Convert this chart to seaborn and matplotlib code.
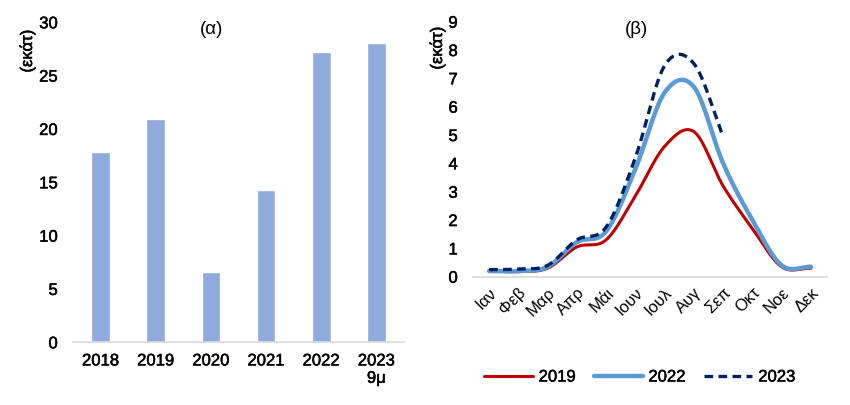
import numpy as np
import pandas as pd
import matplotlib
matplotlib.use("Agg")
import matplotlib.pyplot as plt
import matplotlib.patheffects as pe
import seaborn as sns

# ---------------- data ----------------
years = ["2018", "2019", "2020", "2021", "2022", "2023\n9μ"]
arrivals = [17.8, 20.9, 6.6, 14.3, 27.2, 28.1]

months = ["Ιαν", "Φεβ", "Μαρ", "Απρ", "Μάι", "Ιουν", "Ιουλ", "Αυγ", "Σεπ", "Οκτ", "Νοε", "Δεκ"]
v2019 = [0.20, 0.18, 0.30, 1.05, 1.30, 2.85, 4.60, 5.12, 3.20, 1.70, 0.35, 0.30]
v2022 = [0.20, 0.20, 0.35, 1.22, 1.60, 3.80, 6.50, 6.70, 4.00, 2.00, 0.40, 0.35]
v2023 = [0.25, 0.27, 0.40, 1.30, 1.75, 4.20, 7.45, 7.52, 4.95]

series_names = ["2019", "2022", "2023"]
series_vals = [v2019, v2022, v2023]
series_colors = ["#C00000", "#5B9BD5", "#002060"]
series_widths = [2.2, 3.2, 2.4]
series_dash = ["-", "-", (0, (2.6, 1.6))]

FONT = ["Liberation Sans", "DejaVu Sans"]
sns.set_theme(style="white")
plt.rcParams["font.family"] = FONT
plt.rcParams["text.color"] = "black"
plt.rcParams["xtick.color"] = "black"
plt.rcParams["ytick.color"] = "black"

THICK = [pe.withStroke(linewidth=0.35, foreground="black")]


def smooth(y, n=30):
    """Catmull-Rom rendering of a line (Excel 'smoothed line' style)."""
    y = np.asarray(y, float)
    x = np.arange(len(y), dtype=float)
    xs, ys = [], []
    for i in range(len(y) - 1):
        p0 = y[i - 1] if i > 0 else y[i]
        p3 = y[i + 2] if i + 2 < len(y) else y[i + 1]
        p1, p2 = y[i], y[i + 1]
        m1 = (p2 - p0) / 2 if i > 0 else (p2 - p1)
        m2 = (p3 - p1) / 2 if i + 2 < len(y) else (p2 - p1)
        t = np.linspace(0, 1, n, endpoint=(i == len(y) - 2))
        h00 = 2 * t**3 - 3 * t**2 + 1
        h10 = t**3 - 2 * t**2 + t
        h01 = -2 * t**3 + 3 * t**2
        h11 = t**3 - t**2
        xs.append(x[i] + t)
        ys.append(h00 * p1 + h10 * m1 + h01 * p2 + h11 * m2)
    return np.concatenate(xs), np.concatenate(ys)


fig = plt.figure(figsize=(8.5, 4.05), dpi=100)
W, H = 850, 405

# ---------------- panel (α) ----------------
ax1 = fig.add_axes([73 / W, 1 - 342.3 / H, 331 / W, 320 / H])
df1 = pd.DataFrame({"year": years, "value": arrivals})
sns.barplot(data=df1, x="year", y="value", color="#8FAADC", saturation=1,
            width=0.34, ax=ax1)
ax1.set_xlim(-0.5, 5.5)
ax1.set_ylim(0, 30)
ax1.set_yticks(range(0, 31, 5))
ax1.set_xlabel("")
ax1.set_ylabel("")

# ---------------- panel (β) ----------------
ax2 = fig.add_axes([473 / W, 1 - 276.7 / H, 354 / W, 255 / H])
for name, vals, col, lw, ls in zip(series_names, series_vals, series_colors,
                                   series_widths, series_dash):
    xs, ys = smooth(vals)
    sns.lineplot(x=xs, y=ys, color=col, lw=lw, linestyle=ls, ax=ax2,
                 label=name, sort=False, solid_capstyle="round",
                 dash_capstyle="butt")
ax2.set_xlim(-0.55, 11.55)
ax2.set_ylim(0, 9)
ax2.set_yticks(range(0, 10))
ax2.set_xticks(range(12))
ax2.set_xticklabels(months, rotation=45, ha="right", rotation_mode="anchor")
ax2.get_legend().remove()

for ax in (ax1, ax2):
    for s in ("left", "right", "top"):
        ax.spines[s].set_visible(False)
    ax.spines["bottom"].set_color("#D9D9D9")
    ax.spines["bottom"].set_linewidth(1.2)
    ax.tick_params(axis="both", length=0, labelsize=12)
    ax.tick_params(axis="y", pad=11)
    ax.grid(False)
ax1.tick_params(axis="x", pad=8)
ax2.tick_params(axis="x", pad=6, labelsize=12)
for lab in ax1.get_xticklabels() + ax1.get_yticklabels() + ax2.get_yticklabels():
    lab.set_path_effects(THICK)

# titles and unit labels
fig.text(212 / W, 1 - 30 / H, "(α)", ha="center", va="center", fontsize=13.5)
fig.text(637 / W, 1 - 30 / H, "(β)", ha="center", va="center", fontsize=13.5)
fig.text(27 / W, 1 - 51 / H, "(εκάτ)", rotation=90, ha="center", va="center",
         fontsize=12, path_effects=THICK)
fig.text(437 / W, 1 - 48 / H, "(εκάτ)", rotation=90, ha="center", va="center",
         fontsize=12, path_effects=THICK)

handles, labels = ax2.get_legend_handles_labels()
leg = fig.legend(handles, labels, loc="center", bbox_to_anchor=(640 / W, 1 - 377 / H),
                 ncol=3, frameon=False, fontsize=12, handlelength=2.9,
                 handletextpad=0.35, columnspacing=1.1)
for t in leg.get_texts():
    t.set_path_effects(THICK)

fig.savefig("out.png", dpi=100)
